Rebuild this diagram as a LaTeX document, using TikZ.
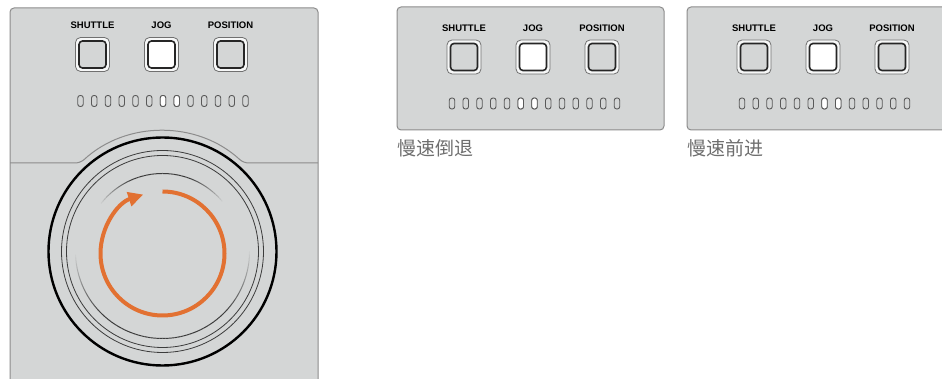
\documentclass[tikz,border=0pt]{standalone}
\usepackage{fontspec}
\usetikzlibrary{arrows.meta}
\newfontfamily\btnfont{Liberation Sans}
\newfontfamily\cjk{Noto Sans CJK SC}
\definecolor{panelgray}{RGB}{212,214,214}
\definecolor{panelline}{RGB}{140,140,140}
\definecolor{ringgray}{RGB}{60,60,60}
\definecolor{knoborange}{RGB}{226,113,50}
\definecolor{captiongray}{RGB}{110,110,110}

\begin{document}
\begin{tikzpicture}[
    x=1pt, y=1pt,
    panel/.style={draw=panelline, fill=panelgray, line width=1pt, rounded corners=4pt},
    btnlabel/.style={font=\btnfont\bfseries\fontsize{9.5}{10}\selectfont, inner sep=0pt},
    btnframe/.style={draw=panelline!80!black, fill=white!80!panelgray, line width=.8pt, rounded corners=5pt, minimum size=34pt, inner sep=0pt},
    btn/.style={draw=black!85, fill=panelgray, line width=1.6pt, rounded corners=3.5pt, minimum size=27pt, inner sep=0pt},
    led/.style={draw=black!65, fill=panelgray, line width=.9pt, rounded corners=2.4pt, minimum width=5.5pt, minimum height=11pt, inner sep=0pt},
    ring/.style={draw=ringgray, line width=.8pt},
    caption/.style={font=\cjk\fontsize{19}{19}\selectfont, text=captiongray, anchor=west, inner sep=0pt},
    pics/ctrlrow/.style={code={
        % 三个按钮 (JOG 亮)
        \node[btnframe] (-shuttle) at (-69,0) {};
        \node[btn] at (-shuttle) {};
        \node[btnframe] (-jog) at (0,0) {};
        \node[btn, fill=white] at (-jog) {};
        \node[btnframe] (-position) at (69,0) {};
        \node[btn] at (-position) {};
        % 按钮标签
        \node[btnlabel] at (-69,29) {SHUTTLE};
        \node[btnlabel] at (0,29) {JOG};
        \node[btnlabel] at (69,29) {POSITION};
        % 指示灯 (13个)
        \foreach \i in {-6,...,6}
            \node[led] (-led\i) at (1.5+13.75*\i,-46.5) {};
        \foreach \i in {#1}
            \node[led, fill=white] at (-led\i) {};
    }}
]
    \useasboundingbox (0,0) rectangle (942,379);
    \clip (0,0) rectangle (942,379);

    % 1. 左侧面板 (带旋钮)
    \draw[panel] (10,-10) -- (10,371) -- (318,371) -- (318,-10);
    \draw[draw=panelline, line width=1pt, rounded corners=5pt]
        (10,216) -- (80.4,216) arc[start angle=132.8, end angle=47.2, radius=120] -- (318,216);
    \pic (jogrow) at (161.5,324.5) {ctrlrow={0,1}};

    % 旋钮
    \coordinate (knob) at (162.5,127.5);
    \draw[black, line width=2.4pt] (knob) circle[radius=114];
    \draw[ring] (knob) circle[radius=101];
    \draw[ring] (knob) circle[radius=96];
    % 旋钮上方和下方的渐隐弧线
    \foreach \a in {38,40,...,140} {
        \pgfmathsetmacro\op{min(1,min(\a-38,142-\a)/30)}
        \draw[ring, line width=1pt, draw opacity=\op]
            (knob) ++(\a:78) arc[start angle=\a, end angle=\a+2, radius=78];
    }
    \foreach \a in {180,182,...,358} {
        \pgfmathsetmacro\op{min(1,min(\a-180,360-\a)/45)}
        \draw[ring, line width=1pt, draw opacity=\op]
            (knob) ++(\a:87) arc[start angle=\a, end angle=\a+2, radius=87];
    }

    % 橙色旋转箭头
    \coordinate (dial) at (162.5,125.5);
    \draw[knoborange, line width=4pt, -{Triangle[length=15pt, width=14pt]}]
        (dial) ++(90:62) arc[start angle=90, end angle=-252, radius=62];

    % 2. 中间面板 (慢速倒退)
    \draw[panel] (397,249) rectangle (664,372);
    \pic (revrow) at (533,322) {ctrlrow={-1,0}};
    \node[caption] (revcap) at (397,231) {慢速倒退};

    % 3. 右侧面板 (慢速前进)
    \draw[panel] (687,249) rectangle (960,372);
    \pic (fwdrow) at (823,322) {ctrlrow={0,1}};
    \node[caption] (fwdcap) at (687,231) {慢速前进};

\end{tikzpicture}
\end{document}
